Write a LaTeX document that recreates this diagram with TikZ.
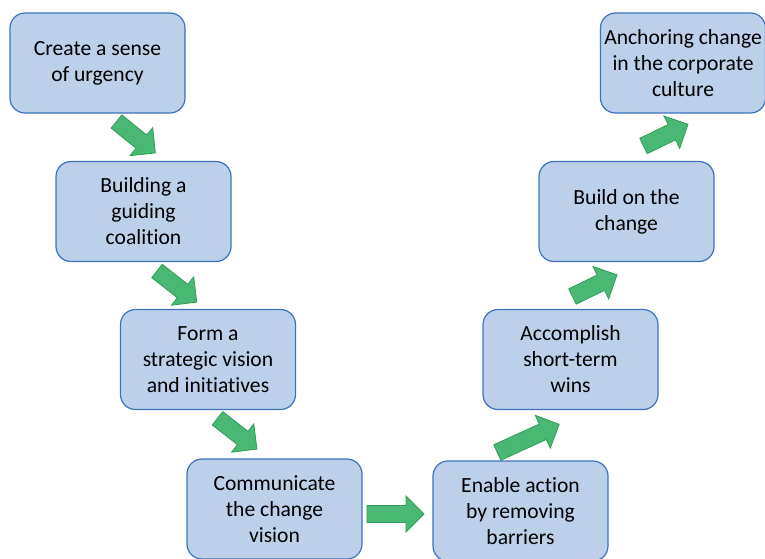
\documentclass[tikz,border=0pt]{standalone}
\usepackage{fontspec}
\setmainfont{Carlito}[Ligatures={NoCommon}]
\definecolor{boxfill}{HTML}{BCD0E9}
\definecolor{boxline}{HTML}{3E71BE}
\definecolor{arrowfill}{HTML}{48B873}
\definecolor{arrowline}{HTML}{2E9E58}
\tikzset{
  stagebox/.style={draw=boxline, fill=boxfill, line width=1.2pt,
    rounded corners=15pt, minimum width=175pt, minimum height=100pt,
    inner sep=0pt, align=center, text=black,
    font=\fontsize{21.6}{26}\selectfont},
  arrowpaint/.style={draw=arrowline, fill=arrowfill, line width=0.8pt, line join=miter},
  % block arrow pointing along +x, tail centre at the origin, #1 = total length
  pics/blockarrow/.style={code={
    \draw[arrowpaint] (0,-8.5) -- ({#1-18},-8.5) -- ({#1-18},-18) -- (#1,0)
      -- ({#1-18},18) -- ({#1-18},8.5) -- (0,8.5) -- cycle;}}
}
\begin{document}
\begin{tikzpicture}[x=1pt, y=-1pt]
  \useasboundingbox (0,0) rectangle (765,558);

  % stages of the change process
  \node[stagebox] (s1) at (97.5,63)   {Create a sense\\of urgency};
  \node[stagebox] (s2) at (143.5,211.5) {Building a\\guiding\\coalition};
  \node[stagebox] (s3) at (208,359.5) {Form a\\strategic vision\\and initiatives};
  \node[stagebox] (s4) at (274.5,509) {Communicate\\the change\\vision};
  \node[stagebox] (s5) at (520.5,511) {Enable action\\by removing\\barriers};
  \node[stagebox] (s6) at (570.5,359.5) {Accomplish\\short-term\\wins};
  \node[stagebox] (s7) at (626.5,211.5) {Build on the\\change};
  \node[stagebox, minimum width=165pt] (s8) at (683,63) {Anchoring change\\in the corporate\\culture};

  % block arrows between the stages
  \pic[rotate=-39] (a1) at (116.5,121.5) {blockarrow=50};
  \pic[rotate=-38] (a2) at (157,271)     {blockarrow=50.5};
  \pic[rotate=-38] (a3) at (217.5,418.3) {blockarrow=50};
  \pic            (a4) at (367,514)      {blockarrow=57};
  \pic[rotate=24.5] (a5) at (497.3,452.5) {blockarrow=68};
  \pic[rotate=26] (a6) at (572.5,296.5)  {blockarrow=49.5};
  \pic[rotate=26] (a7) at (643.5,146)    {blockarrow=49.5};
\end{tikzpicture}
\end{document}
